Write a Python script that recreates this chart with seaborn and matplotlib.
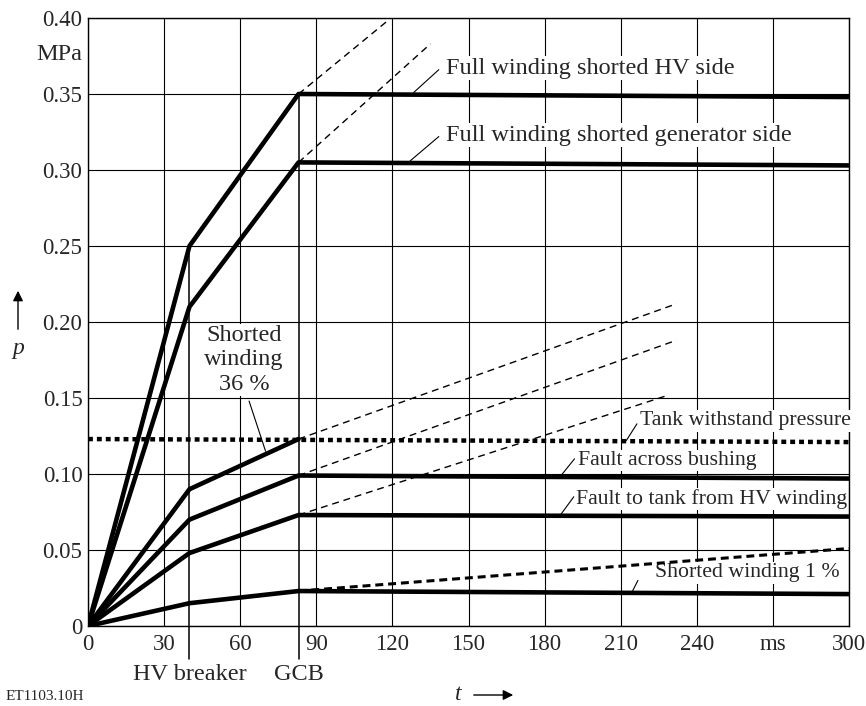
# pressure rise in transformer tank after internal fault
import numpy as np
import pandas as pd
import seaborn as sns
import matplotlib
matplotlib.use("Agg")
import matplotlib.pyplot as plt
from matplotlib import transforms
from matplotlib.patches import FancyArrowPatch

# data *********************************************************************
# break points: start, HV breaker opens, GCB opens, end of plot (ms)
t_points = [0, 40, 83, 300]
hv_side = [0, 0.25, 0.35, 0.348]
gen_side = [0, 0.21, 0.305, 0.303]
shorted_36 = [0, 0.09, 0.123]
bushing = [0, 0.07, 0.099, 0.097]
tank_fault = [0, 0.048, 0.073, 0.072]
shorted_1 = [0, 0.015, 0.023, 0.021]

# dashed extensions (pressure if the GCB did not open): end time, end pressure
hv_ext = [118, 0.398]
gen_ext = [135, 0.383]
shorted_36_ext = [232, 0.212]
bushing_ext = [232, 0.188]
tank_fault_ext = [229, 0.152]
shorted_1_ext = [300, 0.051]

# tank withstand pressure (start, end)
withstand_t = [0, 300]
withstand_p = [0.123, 0.121]

breaker_times = [40, 83]
breaker_names = ['HV breaker', 'GCB']

x_ticks = list(range(0, 301, 30))
x_labels = ['0', '30', '60', '90', '120', '150', '180', '210', '240', 'ms', '300']
y_ticks = [0, 0.05, 0.10, 0.15, 0.20, 0.25, 0.30, 0.35, 0.40]
y_labels = ['0', '0.05', '0.10', '0.15', '0.20', '0.25', '0.30', '0.35', '0.40']

# style ********************************************************************
sns.set_style('white')
plt.rcParams['font.family'] = ['Liberation Serif', 'DejaVu Serif']
FS = 15.7      # small curve labels
FS_BIG = 17.5  # top labels, breaker names, 36 % label

fig = plt.figure(figsize=(8.66, 7.06), dpi=100)
ax = fig.add_axes([88 / 866, 1 - 626 / 706, 761 / 866, 608 / 706])


def solid(t, p):
    df = pd.DataFrame({'t': t, 'p': p})
    sns.lineplot(data=df, x='t', y='p', ax=ax, color='black', lw=3.3,
                 estimator=None, sort=False, zorder=5)


def dashed(t0, p0, ext, lw=1.0, pattern=(5, 3.5)):
    df = pd.DataFrame({'t': [t0, ext[0]], 'p': [p0, ext[1]]})
    sns.lineplot(data=df, x='t', y='p', ax=ax, color='black', lw=lw,
                 linestyle=(0, pattern), estimator=None, sort=False, zorder=4)


# curves
for vals in [hv_side, gen_side, bushing, tank_fault, shorted_1]:
    solid(t_points, vals)
solid(t_points[:3], shorted_36)

dashed(t_points[2], hv_side[2], hv_ext)
dashed(t_points[2], gen_side[2], gen_ext)
dashed(t_points[2], shorted_36[2], shorted_36_ext)
dashed(t_points[2], bushing[2], bushing_ext)
dashed(t_points[2], tank_fault[2], tank_fault_ext)
dashed(t_points[2], shorted_1[2], shorted_1_ext, lw=2.2, pattern=(2.6, 1.6))

# tank withstand pressure (thick dotted)
sns.lineplot(x=withstand_t, y=withstand_p, ax=ax, color='black', lw=3.2,
             linestyle=(0, (1.1, 0.9)), zorder=4)

# breaker lines, running from the kink of the top curve to below the axis
xb = transforms.blended_transform_factory(ax.transData, ax.transAxes)
for bt, top, name in zip(breaker_times, hv_side[1:3], breaker_names):
    ax.plot([bt, bt], [-0.022, top], color='black', lw=1.1, clip_on=False, zorder=3)
    ax.text(bt, -0.079, name, transform=xb, ha='center', va='center', fontsize=FS_BIG)

# axes
ax.set_xlim(0, 300)
ax.set_ylim(0, 0.4)
ax.set_xticks(x_ticks)
ax.set_xticklabels(x_labels)
ax.set_yticks(y_ticks)
ax.set_yticklabels(y_labels)
ax.tick_params(length=0, labelsize=16.5)
ax.tick_params(axis='y', pad=4)
ax.tick_params(axis='x', pad=6)
ax.set_xlabel('')
ax.set_ylabel('')
ax.grid(True, color='black', lw=0.8)
ax.set_axisbelow(True)
for s in ax.spines.values():
    s.set_color('black')
    s.set_linewidth(1.0)

# labels with leader lines
box = dict(facecolor='white', edgecolor='none', pad=1.0)
labels = [
    ('Full winding shorted HV side', (141, 0.367), [(128.4, 0.351), (138.3, 0.366)], FS_BIG),
    ('Full winding shorted generator side', (141, 0.323), [(127, 0.306), (138.3, 0.322)], FS_BIG),
    ('Tank withstand pressure', (217.5, 0.135), [(212.2, 0.122), (216.4, 0.133)], FS),
    ('Fault across bushing', (193, 0.109), [(186, 0.098), (191.8, 0.110)], FS),
    ('Fault to tank from HV winding', (192.4, 0.0835), [(186, 0.0725), (191.5, 0.085)], FS),
    ('Shorted winding 1 %', (223.5, 0.035), [(214.2, 0.0215), (216.8, 0.030)], FS),
]
for txt, pos, lead, size in labels:
    ax.text(pos[0], pos[1], txt, ha='left', va='center', fontsize=size, bbox=box, zorder=3)
    ax.plot([lead[0][0], lead[1][0]], [lead[0][1], lead[1][1]], color='black', lw=0.8, zorder=6)

ax.text(61.5, 0.175, 'Shorted\nwinding\n36 %', ha='center', va='center', fontsize=FS_BIG,
        linespacing=1.2, bbox=box, zorder=3)
ax.plot([63.5, 70], [0.148, 0.115], color='black', lw=0.8, zorder=6)

# unit and axis symbols
yb = transforms.blended_transform_factory(ax.transAxes, ax.transData)
ax.text(-0.008, 0.376, 'MPa', transform=yb, ha='right', va='center', fontsize=FS_BIG)
fig.text(18 / 866, 1 - 348 / 706, 'p', fontstyle='italic', ha='center', va='center', fontsize=17)
fig.patches.append(FancyArrowPatch(
    (18 / 866, 1 - 332 / 706), (18 / 866, 1 - 288 / 706), transform=fig.transFigure,
    arrowstyle='-|>,head_length=6,head_width=3', color='black', lw=1.0))
fig.text(458 / 866, 1 - 694 / 706, 't', fontstyle='italic', ha='center', va='center', fontsize=17)
fig.patches.append(FancyArrowPatch(
    (471 / 866, 1 - 695 / 706), (516 / 866, 1 - 695 / 706), transform=fig.transFigure,
    arrowstyle='-|>,head_length=6,head_width=3', color='black', lw=1.0))
fig.text(6 / 866, 1 - 697 / 706, 'ET1103.10H', ha='left', va='center', fontsize=11)

plt.savefig('out.png', dpi=100)
